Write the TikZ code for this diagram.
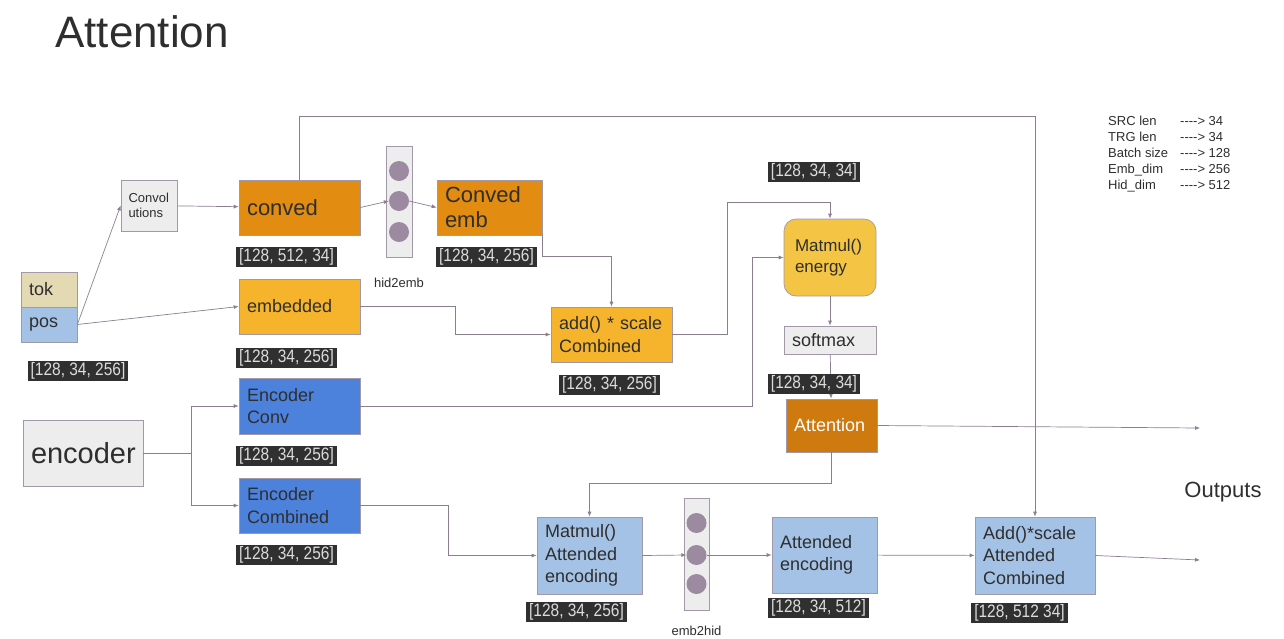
\documentclass[tikz,border=0pt]{standalone}
\usepackage{fontspec}
\setmainfont{Liberation Sans}
\newfontfamily\dimsfamily[FakeStretch=0.86]{Liberation Sans}
\usetikzlibrary{arrows.meta}

\definecolor{edgec}{HTML}{A398A8}
\definecolor{linec}{HTML}{8C7D91}
\definecolor{txtc}{HTML}{2E2E2E}
\definecolor{greyc}{HTML}{EDEDED}
\definecolor{tokc}{HTML}{E3D9B2}
\definecolor{lblue}{HTML}{A4C2E5}
\definecolor{dblue}{HTML}{4C82DB}
\definecolor{orng}{HTML}{E28C12}
\definecolor{gold}{HTML}{F5B42C}
\definecolor{yell}{HTML}{F4C544}
\definecolor{attnc}{HTML}{CE7A0E}
\definecolor{ballc}{HTML}{9B8AA0}
\definecolor{dimbg}{HTML}{303030}
\definecolor{dimtx}{HTML}{DCDCDC}

\newcommand\boxfont{\fontsize{18}{22.5}\selectfont}
\newcommand\dimsfont{\dimsfamily\fontsize{18}{20}\selectfont}

\tikzset{blk/.style={draw=edgec, line width=0.7pt, inner xsep=8pt, inner ysep=0pt,
    align=left, text width=105pt, minimum height=55pt, text=txtc, font=\boxfont}}
\tikzset{dims/.style={fill=dimbg, text=dimtx, inner xsep=3pt, inner ysep=0pt,
    minimum height=20pt, font=\dimsfont}}
\tikzset{col/.style={draw=edgec, fill=greyc, minimum width=26pt, inner sep=0pt}}
\tikzset{ball/.style={circle, fill=ballc, minimum size=20pt, inner sep=0pt}}
\tikzset{lnk/.style={draw=linec, line width=0.7pt, -{Latex[length=5pt,width=4pt]}}}
\tikzset{every edge/.style={lnk}}

\begin{document}
\begin{tikzpicture}[x=1pt, y=-1pt]
  \useasboundingbox (0,0) rectangle (1284,638);

  \node[anchor=base west, inner sep=0pt, text=txtc, font=\fontsize{44}{50}\selectfont] (title) at (55,47) {Attention};

  % inputs
  \node[blk, fill=tokc, text width=40pt, minimum height=35pt] (tok) at (49,289.5) {tok};
  \node[blk, fill=lblue, text width=40pt, minimum height=35pt] (pos) at (49,324.5) {pos};
  \node[blk, fill=greyc, text width=41pt, inner xsep=7.5pt, minimum height=51pt,
        font=\fontsize{13}{15}\selectfont] (conv) at (149,205.5) {Convol\\utions};
  \node[blk, fill=greyc, text width=104pt, inner xsep=8pt, minimum height=66pt,
        font=\fontsize{29}{32}\selectfont] (enc) at (83,453) {encoder};

  % first column
  \node[blk, fill=orng, font=\fontsize{22}{26}\selectfont] (conved) at (299.5,207.5) {conved};
  \node[blk, fill=gold] (embedded) at (299.5,306.5) {embedded};
  \node[blk, fill=dblue, minimum height=56pt] (encconv) at (299.5,406) {Encoder\\Conv};
  \node[blk, fill=dblue] (enccomb) at (299.5,505.5) {Encoder\\Combined};

  % hid2emb
  \node[col, minimum height=111pt] (h2e) at (399,201.5) {};
  \node[ball] (ha) at (399,171) {};
  \node[ball] (hb) at (399,201) {};
  \node[ball] (hc) at (399,232) {};
  \node[text=txtc, font=\fontsize{13}{15}\selectfont] (h2etxt) at (399,283) {hid2emb};

  \node[blk, fill=orng, text width=89pt, font=\fontsize{22}{25}\selectfont] (convemb) at (489.5,207.5) {Conved\\emb};
  \node[blk, fill=gold] (addc) at (611.5,334.5) {add() * scale\\Combined};

  % energy / attention
  \node[blk, fill=yell, rounded corners=12pt, text width=70pt, inner xsep=11pt,
        minimum height=77pt, font=\fontsize{17}{21}\selectfont] (energy) at (830,257.5) {Matmul()\\energy};
  \node[blk, fill=greyc, text width=76pt, minimum height=28pt] (softmax) at (830,340) {softmax};
  \node[blk, fill=attnc, text=white, text width=75pt, minimum height=53pt] (attn) at (831.5,425.5) {Attention};

  % bottom row
  \node[blk, fill=lblue, text width=89pt, minimum height=77pt] (attenc) at (589.5,555.5) {Matmul()\\Attended\\encoding};
  \node[col, minimum width=25pt, minimum height=112pt] (e2h) at (696.5,554) {};
  \node[ball] (ea) at (696.5,523) {};
  \node[ball] (eb) at (696.5,555) {};
  \node[ball] (ec) at (696.5,584) {};
  \node[text=txtc, font=\fontsize{13}{15}\selectfont] (e2htxt) at (696.5,631) {emb2hid};
  \node[blk, fill=lblue, text width=89pt, minimum height=76pt] (attended) at (824.5,555) {Attended\\encoding};
  \node[blk, fill=lblue, text width=104pt, minimum height=77pt] (addatt) at (1035,555.5) {Add()*scale\\Attended\\Combined};

  \node[text=txtc, font=\fontsize{22}{26}\selectfont] (outs) at (1223,492) {Outputs};
  \coordinate (out1) at (1200,428);
  \coordinate (out2) at (1200,560);

  \node[anchor=base west, inner sep=0pt, text=txtc, font=\fontsize{13}{16}\selectfont] (legend) at (1108,125)
    {\begin{tabular}[t]{@{}p{72pt}@{}l@{}}
      SRC len & {-}{-}{-}{-}> 34\\
      TRG len & {-}{-}{-}{-}> 34\\
      Batch size & {-}{-}{-}{-}> 128\\
      Emb\_dim & {-}{-}{-}{-}> 256\\
      Hid\_dim & {-}{-}{-}{-}> 512
    \end{tabular}};

  % connectors
  \path (pos.east) edge (conv.west);
  \path (pos.east) edge (embedded.west);
  \path (conv) edge (conved);
  \path (conved.east) edge (hb.west);
  \path (hb.east) edge (convemb.west);
  \draw[lnk] (conved.north) -- ++(0,-63) -| (addatt.north);
  \draw[lnk] (convemb.south east) -- ++(0,21) -| (addc.north);
  \draw[lnk] (embedded.east) -- ++(95,0) |- (addc.west);
  \draw[lnk] (addc.east) -- ++(55,0) -- ++(0,-132.5) -| (energy.north);
  \draw[lnk] (encconv.east) -- ++(392,0) |- (energy.west);
  \path (energy) edge (softmax);
  \path (softmax) edge (attn);
  \path (attn.east) edge (out1);
  \draw[lnk] (attn.south) -- ++(0,31) -| (attenc.north);
  \draw[lnk] (enc.east) -- ++(48,0) |- (encconv.west);
  \draw[lnk] (enc.east) -- ++(48,0) |- (enccomb.west);
  \draw[lnk] (enccomb.east) -- ++(88,0) |- (attenc.west);
  \path (attenc.east) edge (eb.west);
  \path (eb.east) edge (attended.west);
  \path (attended) edge (addatt);
  \path (addatt.east) edge (out2);

  % tensor shapes
  \node[dims] (dtok) at (78,371) {[128, 34, 256]};
  \node[dims] (dconved) at (286.5,257) {[128, 512, 34]};
  \node[dims] (dconvemb) at (486.5,257) {[128, 34, 256]};
  \node[dims] (dembedded) at (286.5,357.5) {[128, 34, 256]};
  \node[dims] (daddc) at (609.5,384.5) {[128, 34, 256]};
  \node[dims] (denergy) at (814,171.5) {[128, 34, 34]};
  \node[dims] (dsoftmax) at (814,384) {[128, 34, 34]};
  \node[dims] (dencconv) at (286.5,455.5) {[128, 34, 256]};
  \node[dims] (denccomb) at (286.5,555) {[128, 34, 256]};
  \node[dims] (dattenc) at (576.5,612) {[128, 34, 256]};
  \node[dims] (dattended) at (818.5,607.5) {[128, 34, 512]};
  \node[dims] (daddatt) at (1019.5,613) {[128, 512 34]};
\end{tikzpicture}
\end{document}
